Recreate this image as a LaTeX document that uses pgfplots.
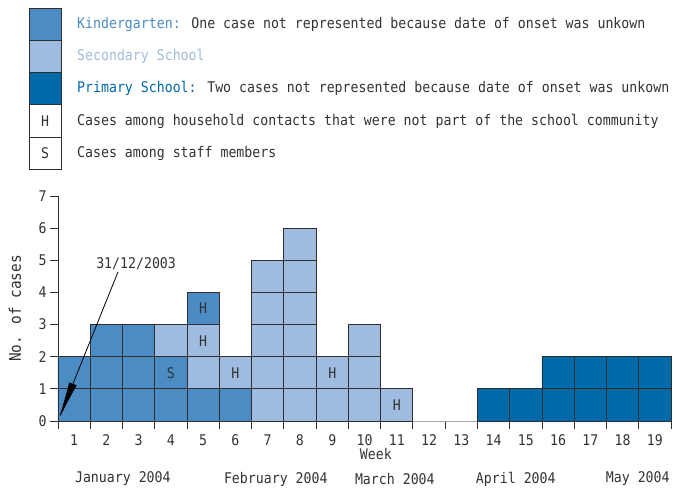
\documentclass[border=0pt]{standalone}
\usepackage{pgfplots}
\pgfplotsset{compat=1.18}
\usepackage{pgfplotstable}
\usepackage{fontspec}
\setmainfont{DejaVu Sans Mono}[FakeStretch=0.9]
\usetikzlibrary{arrows.meta}
\definecolor{kind}{HTML}{4A8CC3}
\definecolor{sec}{HTML}{9FBBDF}
\definecolor{prim}{HTML}{0069AA}
\definecolor{bord}{HTML}{2E2E2E}
\definecolor{txt}{HTML}{333333}
\pgfplotstableread{
week l1k l1s l1p l2k l2s l2p l3k l3s l4k l4s l5s l6s
1  1 0 0 1 0 0 0 0 0 0 0 0
2  1 0 0 1 0 0 1 0 0 0 0 0
3  1 0 0 1 0 0 1 0 0 0 0 0
4  1 0 0 1 0 0 0 1 0 0 0 0
5  1 0 0 0 1 0 0 1 1 0 0 0
6  1 0 0 0 1 0 0 0 0 0 0 0
7  0 1 0 0 1 0 0 1 0 1 1 0
8  0 1 0 0 1 0 0 1 0 1 1 1
9  0 1 0 0 1 0 0 0 0 0 0 0
10 0 1 0 0 1 0 0 1 0 0 0 0
11 0 1 0 0 0 0 0 0 0 0 0 0
12 0 0 0 0 0 0 0 0 0 0 0 0
13 0 0 0 0 0 0 0 0 0 0 0 0
14 0 0 1 0 0 0 0 0 0 0 0 0
15 0 0 1 0 0 0 0 0 0 0 0 0
16 0 0 1 0 0 1 0 0 0 0 0 0
17 0 0 1 0 0 1 0 0 0 0 0 0
18 0 0 1 0 0 1 0 0 0 0 0 0
19 0 0 1 0 0 1 0 0 0 0 0 0
}\cells
\newcommand{\fs}{\fontsize{14.7}{17}\selectfont}
\begin{document}
\begin{tikzpicture}[x=1pt,y=1pt,font=\fs,text=txt]
\useasboundingbox (-58,-69) rectangle (619,421);
% legend
\foreach \i/\c in {0/kind,1/sec,2/prim,3/white,4/white}{
  \filldraw[fill=\c,draw=bord,line width=0.8pt] (-29,{413-32.3*\i}) rectangle (3,{413-32.3*(\i+1)});
}
\node[anchor=west,inner sep=0] at (19,{413-32.3*0.5}) {\textcolor{kind}{Kindergarten:} One case not represented because date of onset was unkown};
\node[anchor=west,inner sep=0] at (19,{413-32.3*1.5}) {\textcolor{sec}{Secondary School}};
\node[anchor=west,inner sep=0] at (19,{413-32.3*2.5}) {\textcolor{prim}{Primary School:} Two cases not represented because date of onset was unkown};
\node[anchor=west,inner sep=0] at (19,{413-32.3*3.5}) {Cases among household contacts that were not part of the school community};
\node[anchor=west,inner sep=0] at (19,{413-32.3*4.5}) {Cases among staff members};
\node at (-13,{413-32.3*3.5}) {H};
\node at (-13,{413-32.3*4.5}) {S};
\begin{axis}[
  at={(0,0)}, anchor=south west,
  scale only axis, width=613pt, height=225pt,
  xmin=0.5, xmax=19.5, ymin=0, ymax=7,
  ybar stacked, bar width=1,
  axis x line*=bottom, axis y line*=left,
  x axis line style={draw=gray!70, line width=0.8pt},
  y axis line style={draw=bord, line width=0.8pt},
  xtick={1,...,19},
  major x tick style={draw=none},
  minor xtick={0.5,1.5,...,19.5},
  minor x tick style={draw=bord, line width=0.8pt},
  minor tick length=8pt,
  ytick={0,...,7},
  major y tick style={draw=bord, line width=0.8pt},
  major tick length=8pt,
  tick align=outside,
  xticklabel style={yshift=-2pt},
  ticklabel style={font=\fs, text=txt},
  /pgf/number format/assume math mode=true,
  clip=false,
  every axis plot/.append style={draw=bord, line width=0.8pt},
]
\addplot[fill=kind] table[x=week,y=l1k]{\cells};
\addplot[fill=sec]  table[x=week,y=l1s]{\cells};
\addplot[fill=prim] table[x=week,y=l1p]{\cells};
\addplot[fill=kind] table[x=week,y=l2k]{\cells};
\addplot[fill=sec]  table[x=week,y=l2s]{\cells};
\addplot[fill=prim] table[x=week,y=l2p]{\cells};
\addplot[fill=kind] table[x=week,y=l3k]{\cells};
\addplot[fill=sec]  table[x=week,y=l3s]{\cells};
\addplot[fill=kind] table[x=week,y=l4k]{\cells};
\addplot[fill=sec]  table[x=week,y=l4s]{\cells};
\addplot[fill=sec]  table[x=week,y=l5s]{\cells};
\addplot[fill=sec]  table[x=week,y=l6s]{\cells};
\coordinate (h1) at (axis cs:5,3.5);
\coordinate (h2) at (axis cs:5,2.5);
\coordinate (s1) at (axis cs:4,1.5);
\coordinate (h3) at (axis cs:6,1.5);
\coordinate (h4) at (axis cs:9,1.5);
\coordinate (h5) at (axis cs:11,0.5);
\coordinate (a0) at (axis cs:2.36,4.64);
\coordinate (a1) at (axis cs:0.5,0);
\coordinate (al) at (axis cs:2.92,4.88);
\coordinate (wk) at (axis cs:10.35,0);
\coordinate (m1) at (axis cs:2.51,0);
\coordinate (m2) at (axis cs:7.25,0);
\coordinate (m3) at (axis cs:10.94,0);
\coordinate (m4) at (axis cs:14.69,0);
\coordinate (m5) at (axis cs:18.47,0);
\coordinate (yl) at (axis cs:0.5,3.5);
\end{axis}
\node at (h1) {H};
\node at (h2) {H};
\node at (s1) {S};
\node at (h3) {H};
\node at (h4) {H};
\node at (h5) {H};
\draw[black, line width=0.8pt, -{Latex[length=40pt,width=8pt]}] (a0) -- (a1);
\node at (al) {31/12/2003};
\node at ([yshift=-33pt]wk) {Week};
\node at ([yshift=-58pt]m1) {January 2004};
\node at ([yshift=-58pt]m2) {February 2004};
\node at ([yshift=-58pt]m3) {March 2004};
\node at ([yshift=-58pt]m4) {April 2004};
\node at ([yshift=-58pt]m5) {May 2004};
\node[rotate=90, font=\fontsize{16}{19}\selectfont] at ([xshift=-43pt]yl) {No. of cases};
\end{tikzpicture}
\end{document}
